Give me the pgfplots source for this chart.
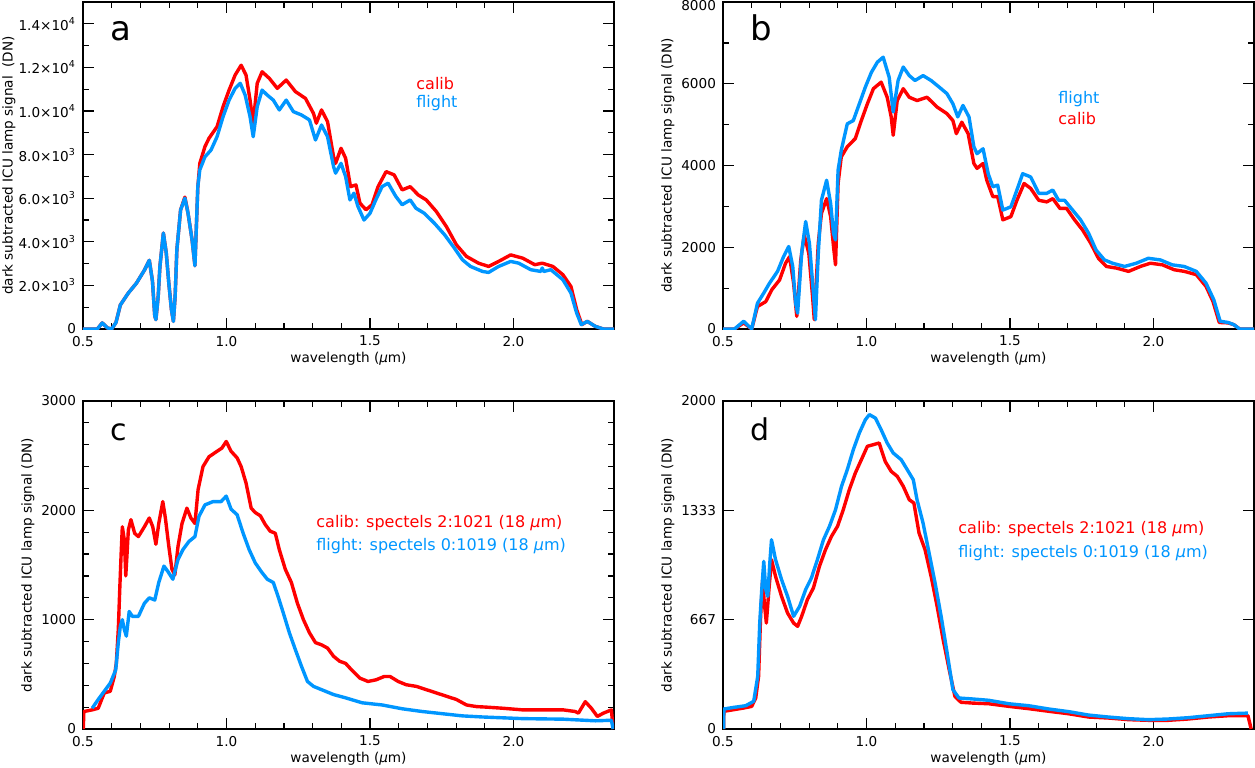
\documentclass[border=0pt]{standalone}
\usepackage{fontspec}
\setmainfont{DejaVu Sans}
\usepackage{pgfplots}
\pgfplotsset{compat=1.18}
\definecolor{cred}{RGB}{255,0,0}
\definecolor{cblue}{RGB}{0,150,255}
\pgfplotsset{
  panel/.style={
    scale only axis, width=265.5pt, height=163.5pt,
    xmin=0.5, xmax=2.35, ymin=0,
    xtick={0.5,1.0,1.5,2.0}, xticklabels={0.5,1.0,1.5,2.0},
    minor x tick num=4,
    tick align=inside,
    major tick length=5.5pt, minor tick length=3pt,
    every tick/.style={black, line width=0.6pt},
    axis line style={line width=0.75pt},
    ticklabel style={font=\fontsize{6.8pt}{7.5pt}\selectfont},
    xlabel={wavelength ({\itshape μ}m)},
    label style={font=\fontsize{6.8pt}{7.5pt}\selectfont},
    xlabel style={at={(axis description cs:0.5,-0.101)}, anchor=base},
    every axis plot/.append style={line width=1.7pt, no markers, line join=round},
    clip=true,
  }
}
\begin{document}
\begin{tikzpicture}
\useasboundingbox (0,0) rectangle (627.5pt,-383.5pt);
% ---------------- panel a
\begin{axis}[panel, at={(41.5pt,-164.5pt)}, anchor=south west,
  ymax=15000, ytick={0,2000,4000,6000,8000,10000,12000,14000},
  yticklabels={0,2.0×10\textsuperscript{3},4.0×10\textsuperscript{3},6.0×10\textsuperscript{3},8.0×10\textsuperscript{3},1.0×10\textsuperscript{4},1.2×10\textsuperscript{4},1.4×10\textsuperscript{4}},
  minor y tick num=1,
  ylabel={dark subtracted ICU lamp signal \ (DN)},
  ylabel style={at={(axis description cs:-0.1394,0.5)}, anchor=center}]
\addplot[cred] coordinates {(0.50,0) (0.55,0) (0.567,280) (0.585,50) (0.60,0) (0.615,300) (0.63,1100) (0.658,1650) (0.686,2100) (0.714,2700) (0.731,3150) (0.742,2200) (0.75,600) (0.754,430) (0.762,1500) (0.768,2870) (0.78,4400) (0.79,3500) (0.799,2100) (0.808,900) (0.815,350) (0.821,1500) (0.827,3630) (0.84,5460) (0.855,6050) (0.866,5310) (0.88,4090) (0.89,2900) (0.90,6500) (0.907,7600) (0.925,8370) (0.939,8750) (0.967,9280) (0.988,10200) (1.009,10960) (1.03,11650) (1.051,12100) (1.068,11650) (1.082,10500) (1.093,9440) (1.107,11270) (1.124,11800) (1.149,11500) (1.177,11040) (1.208,11420) (1.24,10890) (1.275,10580) (1.303,9890) (1.313,9440) (1.331,10050) (1.352,9510) (1.373,7900) (1.38,7600) (1.399,8290) (1.415,7830) (1.432,6530) (1.451,6610) (1.465,5770) (1.486,5470) (1.507,5700) (1.528,6530) (1.556,7220) (1.584,7070) (1.612,6380) (1.64,6530) (1.668,6150) (1.696,5920) (1.731,5390) (1.766,4700) (1.801,3860) (1.836,3330) (1.878,3020) (1.913,2870) (1.948,3100) (1.99,3400) (2.032,3250) (2.074,2950) (2.1,3020) (2.137,2870) (2.172,2490) (2.2,1950) (2.22,885) (2.238,200) (2.257,350) (2.285,120) (2.313,0) (2.35,0)};
\addplot[cblue] coordinates {(0.50,0) (0.55,0) (0.567,280) (0.585,50) (0.60,0) (0.615,300) (0.63,1100) (0.658,1650) (0.686,2100) (0.714,2700) (0.731,3150) (0.742,2200) (0.75,600) (0.754,430) (0.762,1500) (0.768,2870) (0.78,4400) (0.79,3500) (0.799,2100) (0.808,900) (0.815,350) (0.821,1500) (0.827,3630) (0.84,5460) (0.855,6000) (0.866,5310) (0.88,4090) (0.89,2900) (0.90,6530) (0.907,7300) (0.925,7900) (0.946,8210) (0.967,8820) (0.988,9740) (1.009,10500) (1.03,11040) (1.048,11270) (1.065,10730) (1.082,9740) (1.093,8820) (1.107,10200) (1.124,10960) (1.142,10730) (1.163,10500) (1.184,10050) (1.208,10500) (1.233,9970) (1.261,9820) (1.289,9590) (1.31,8670) (1.331,9360) (1.352,8820) (1.373,7450) (1.38,7150) (1.399,7600) (1.415,6990) (1.43,5920) (1.444,6230) (1.458,5620) (1.479,5000) (1.5,5310) (1.52,5920) (1.542,6530) (1.563,6690) (1.59,6080) (1.612,5700) (1.64,5920) (1.66,5540) (1.689,5310) (1.724,4855) (1.76,4320) (1.794,3710) (1.822,3175) (1.85,2870) (1.892,2640) (1.913,2595) (1.948,2870) (1.99,3100) (2.018,3020) (2.06,2720) (2.095,2640) (2.1,2800) (2.105,2640) (2.13,2720) (2.172,2260) (2.2,1650) (2.22,730) (2.236,200) (2.257,350) (2.285,120) (2.313,0) (2.35,0)};
\end{axis}
% ---------------- panel b
\begin{axis}[panel, at={(361.5pt,-164.5pt)}, anchor=south west,
  ymax=8000, ytick={0,2000,4000,6000,8000}, yticklabels={0,2000,4000,6000,\raisebox{-2pt}[\height][\depth]{8000}},
  minor y tick num=1,
  ylabel={dark subtracted ICU lamp signal (DN)},
  ylabel style={at={(axis description cs:-0.1036,0.5)}, anchor=center}]
\addplot[cred] coordinates {(0.5,0) (0.54,0) (0.572,150) (0.6,0) (0.62,550) (0.649,670) (0.67,960) (0.697,1200) (0.718,1610) (0.732,1770) (0.746,1120) (0.757,310) (0.771,1690) (0.783,2300) (0.799,1850) (0.812,800) (0.818,230) (0.832,2100) (0.843,2830) (0.861,3190) (0.875,2750) (0.885,2020) (0.892,1570) (0.901,3560) (0.912,4210) (0.933,4460) (0.961,4660) (0.982,5100) (1.003,5510) (1.024,5880) (1.051,6040) (1.072,5670) (1.086,5190) (1.093,4740) (1.107,5590) (1.128,5880) (1.149,5670) (1.176,5590) (1.211,5670) (1.246,5430) (1.28,5270) (1.301,5100) (1.313,4780) (1.332,5060) (1.354,4780) (1.374,4050) (1.385,3930) (1.406,4050) (1.419,3640) (1.44,3240) (1.457,3240) (1.475,2670) (1.503,2750) (1.524,3150) (1.549,3560) (1.572,3440) (1.6,3150) (1.628,3110) (1.649,3190) (1.674,2950) (1.697,2950) (1.725,2670) (1.753,2420) (1.781,2100) (1.808,1730) (1.836,1530) (1.871,1490) (1.913,1410) (1.954,1530) (1.989,1610) (2.031,1570) (2.072,1450) (2.107,1410) (2.149,1330) (2.183,1040) (2.207,675) (2.229,160) (2.26,150) (2.28,105) (2.3,0) (2.35,0)};
\addplot[cblue] coordinates {(0.5,0) (0.54,0) (0.572,190) (0.6,0) (0.62,630) (0.642,880) (0.662,1120) (0.69,1410) (0.711,1770) (0.729,2020) (0.743,1530) (0.753,630) (0.76,390) (0.774,1850) (0.788,2630) (0.801,2100) (0.815,880) (0.822,230) (0.832,1850) (0.843,3150) (0.861,3640) (0.875,3070) (0.885,2340) (0.892,2180) (0.901,3890) (0.912,4370) (0.933,5020) (0.954,5100) (0.975,5510) (0.996,5920) (1.017,6280) (1.038,6530) (1.058,6650) (1.079,6160) (1.093,5310) (1.11,6080) (1.128,6410) (1.149,6200) (1.169,6080) (1.197,6200) (1.225,6080) (1.253,5920) (1.28,5760) (1.301,5510) (1.318,5190) (1.336,5470) (1.357,5190) (1.374,4460) (1.385,4290) (1.406,4410) (1.424,3800) (1.44,3480) (1.457,3520) (1.475,2910) (1.503,2990) (1.524,3400) (1.544,3800) (1.572,3720) (1.6,3320) (1.628,3320) (1.649,3400) (1.669,3150) (1.69,3150) (1.718,2910) (1.746,2670) (1.774,2340) (1.8,1930) (1.829,1690) (1.857,1610) (1.899,1530) (1.94,1610) (1.982,1730) (2.024,1690) (2.065,1570) (2.107,1530) (2.149,1410) (2.183,1120) (2.21,715) (2.232,190) (2.26,160) (2.28,105) (2.3,0) (2.35,0)};
\end{axis}
% ---------------- panel c
\begin{axis}[panel, height=164pt, at={(41.5pt,-364.5pt)}, anchor=south west,
  ymax=3000, ytick={0,1000,2000,3000}, yticklabels={0,1000,2000,3000},
  minor y tick num=4,
  ylabel={dark subtracted ICU lamp signal (DN)},
  ylabel style={at={(axis description cs:-0.1036,0.5)}, anchor=center}]
\addplot[cred] coordinates {(0.501,0) (0.503,160) (0.532,175) (0.553,190) (0.574,330) (0.595,345) (0.609,480) (0.616,600) (0.623,910) (0.628,1275) (0.633,1610) (0.637,1850) (0.644,1730) (0.649,1400) (0.653,1580) (0.658,1820) (0.667,1915) (0.68,1790) (0.693,1760) (0.714,1850) (0.731,1930) (0.743,1850) (0.754,1690) (0.764,1880) (0.778,2080) (0.787,1930) (0.799,1670) (0.81,1460) (0.82,1410) (0.831,1670) (0.845,1880) (0.862,2020) (0.876,1930) (0.89,1880) (0.901,2190) (0.918,2400) (0.939,2490) (0.967,2540) (0.984,2570) (0.999,2630) (1.016,2540) (1.037,2480) (1.051,2400) (1.068,2250) (1.086,2020) (1.1,1980) (1.118,1950) (1.135,1870) (1.152,1810) (1.17,1790) (1.184,1640) (1.205,1460) (1.226,1340) (1.247,1150) (1.268,1000) (1.289,880) (1.31,790) (1.331,770) (1.352,740) (1.373,665) (1.394,620) (1.415,600) (1.436,540) (1.465,465) (1.493,435) (1.521,450) (1.549,480) (1.57,480) (1.598,435) (1.626,405) (1.661,390) (1.696,360) (1.731,330) (1.766,300) (1.801,270) (1.836,220) (1.871,205) (1.906,200) (1.962,190) (2.032,175) (2.102,175) (2.173,175) (2.215,160) (2.226,145) (2.25,250) (2.271,190) (2.292,115) (2.313,145) (2.341,175) (2.347,0)};
\addplot[cblue] coordinates {(0.532,190) (0.553,270) (0.574,345) (0.595,420) (0.614,540) (0.623,790) (0.63,940) (0.637,1000) (0.644,910) (0.651,850) (0.661,1075) (0.672,1030) (0.693,1030) (0.714,1150) (0.731,1200) (0.75,1180) (0.764,1340) (0.782,1490) (0.796,1440) (0.813,1370) (0.831,1550) (0.848,1640) (0.869,1715) (0.89,1760) (0.904,1945) (0.925,2050) (0.953,2080) (0.981,2080) (0.999,2130) (1.016,2010) (1.037,1960) (1.058,1790) (1.079,1640) (1.1,1520) (1.121,1440) (1.142,1370) (1.163,1340) (1.18,1210) (1.198,1060) (1.219,880) (1.24,725) (1.261,575) (1.282,435) (1.303,390) (1.331,360) (1.373,315) (1.415,285) (1.472,240) (1.542,220) (1.612,185) (1.682,160) (1.752,140) (1.822,120) (1.892,110) (2.032,95) (2.173,90) (2.285,75) (2.341,80) (2.347,0)};
\end{axis}
% ---------------- panel d
\begin{axis}[panel, height=164pt, at={(361.5pt,-364.5pt)}, anchor=south west,
  ymax=2000, ytick={0,666.667,1333.333,2000}, yticklabels={0,667,1333,2000},
  minor y tick num=1,
  ylabel={dark subtracted ICU lamp signal (DN)},
  ylabel style={at={(axis description cs:-0.1036,0.5)}, anchor=center}]
\addplot[cred] coordinates {(0.502,0) (0.503,108) (0.538,118) (0.572,128) (0.6,138) (0.614,189) (0.624,321) (0.631,687) (0.638,910) (0.644,768) (0.651,646) (0.66,850) (0.669,1033) (0.683,931) (0.704,809) (0.725,707) (0.746,646) (0.76,626) (0.774,687) (0.794,789) (0.815,860) (0.836,992) (0.857,1093) (0.878,1175) (0.899,1236) (0.919,1337) (0.94,1459) (0.961,1561) (0.982,1642) (1.003,1724) (1.024,1734) (1.044,1744) (1.065,1632) (1.086,1571) (1.107,1541) (1.128,1480) (1.149,1398) (1.165,1378) (1.183,1195) (1.204,1093) (1.225,931) (1.246,748) (1.267,545) (1.288,362) (1.308,199) (1.329,163) (1.371,158) (1.426,154) (1.496,138) (1.565,124) (1.635,108) (1.704,93) (1.774,73) (1.843,67) (1.913,57) (1.982,53) (2.051,53) (2.121,61) (2.19,73) (2.26,81) (2.329,81) (2.34,0)};
\addplot[cblue] coordinates {(0.502,0) (0.503,122) (0.538,132) (0.579,142) (0.607,169) (0.621,321) (0.628,646) (0.635,850) (0.642,1022) (0.649,850) (0.656,809) (0.663,1012) (0.669,1154) (0.683,1033) (0.704,911) (0.725,809) (0.746,687) (0.767,748) (0.788,850) (0.808,921) (0.829,1033) (0.85,1154) (0.871,1236) (0.892,1337) (0.913,1480) (0.933,1581) (0.954,1703) (0.975,1805) (0.996,1886) (1.01,1917) (1.031,1896) (1.051,1825) (1.072,1744) (1.093,1683) (1.121,1642) (1.142,1581) (1.163,1520) (1.176,1398) (1.197,1256) (1.218,1073) (1.239,890) (1.26,687) (1.281,463) (1.301,240) (1.322,189) (1.371,183) (1.426,175) (1.496,154) (1.565,142) (1.635,122) (1.704,106) (1.774,85) (1.843,73) (1.913,63) (1.982,57) (2.051,61) (2.121,69) (2.19,81) (2.26,93) (2.329,97)};
\end{axis}
% ---------------- panel letters and legends
\node[anchor=base west, inner sep=0pt, font=\fontsize{17pt}{17pt}\selectfont] at (55pt,-20pt) {a};
\node[anchor=base west, inner sep=0pt, font=\fontsize{17pt}{17pt}\selectfont] at (375pt,-20pt) {b};
\node[anchor=base west, inner sep=0pt, font=\fontsize{15pt}{15pt}\selectfont] at (55pt,-220pt) {c};
\node[anchor=base west, inner sep=0pt, font=\fontsize{15pt}{15pt}\selectfont] at (375pt,-220pt) {d};
\begin{scope}[every node/.style={anchor=base west, inner sep=0pt, font=\fontsize{8pt}{9pt}\selectfont}]
\node[text=cred] at (208pt,-44.5pt) {calib};
\node[text=cblue] at (208pt,-53.5pt) {flight};
\node[text=cblue] at (529pt,-51.5pt) {flight};
\node[text=cred] at (529pt,-62pt) {calib};
\node[text=cred] at (158pt,-263.5pt) {calib: spectels 2:1021 (18 {\itshape μ}m)};
\node[text=cblue] at (158pt,-275pt) {flight: spectels 0:1019 (18 {\itshape μ}m)};
\node[text=cred] at (479pt,-266.5pt) {calib: spectels 2:1021 (18 {\itshape μ}m)};
\node[text=cblue] at (479pt,-278.5pt) {flight: spectels 0:1019 (18 {\itshape μ}m)};
\end{scope}
\end{tikzpicture}
\end{document}
